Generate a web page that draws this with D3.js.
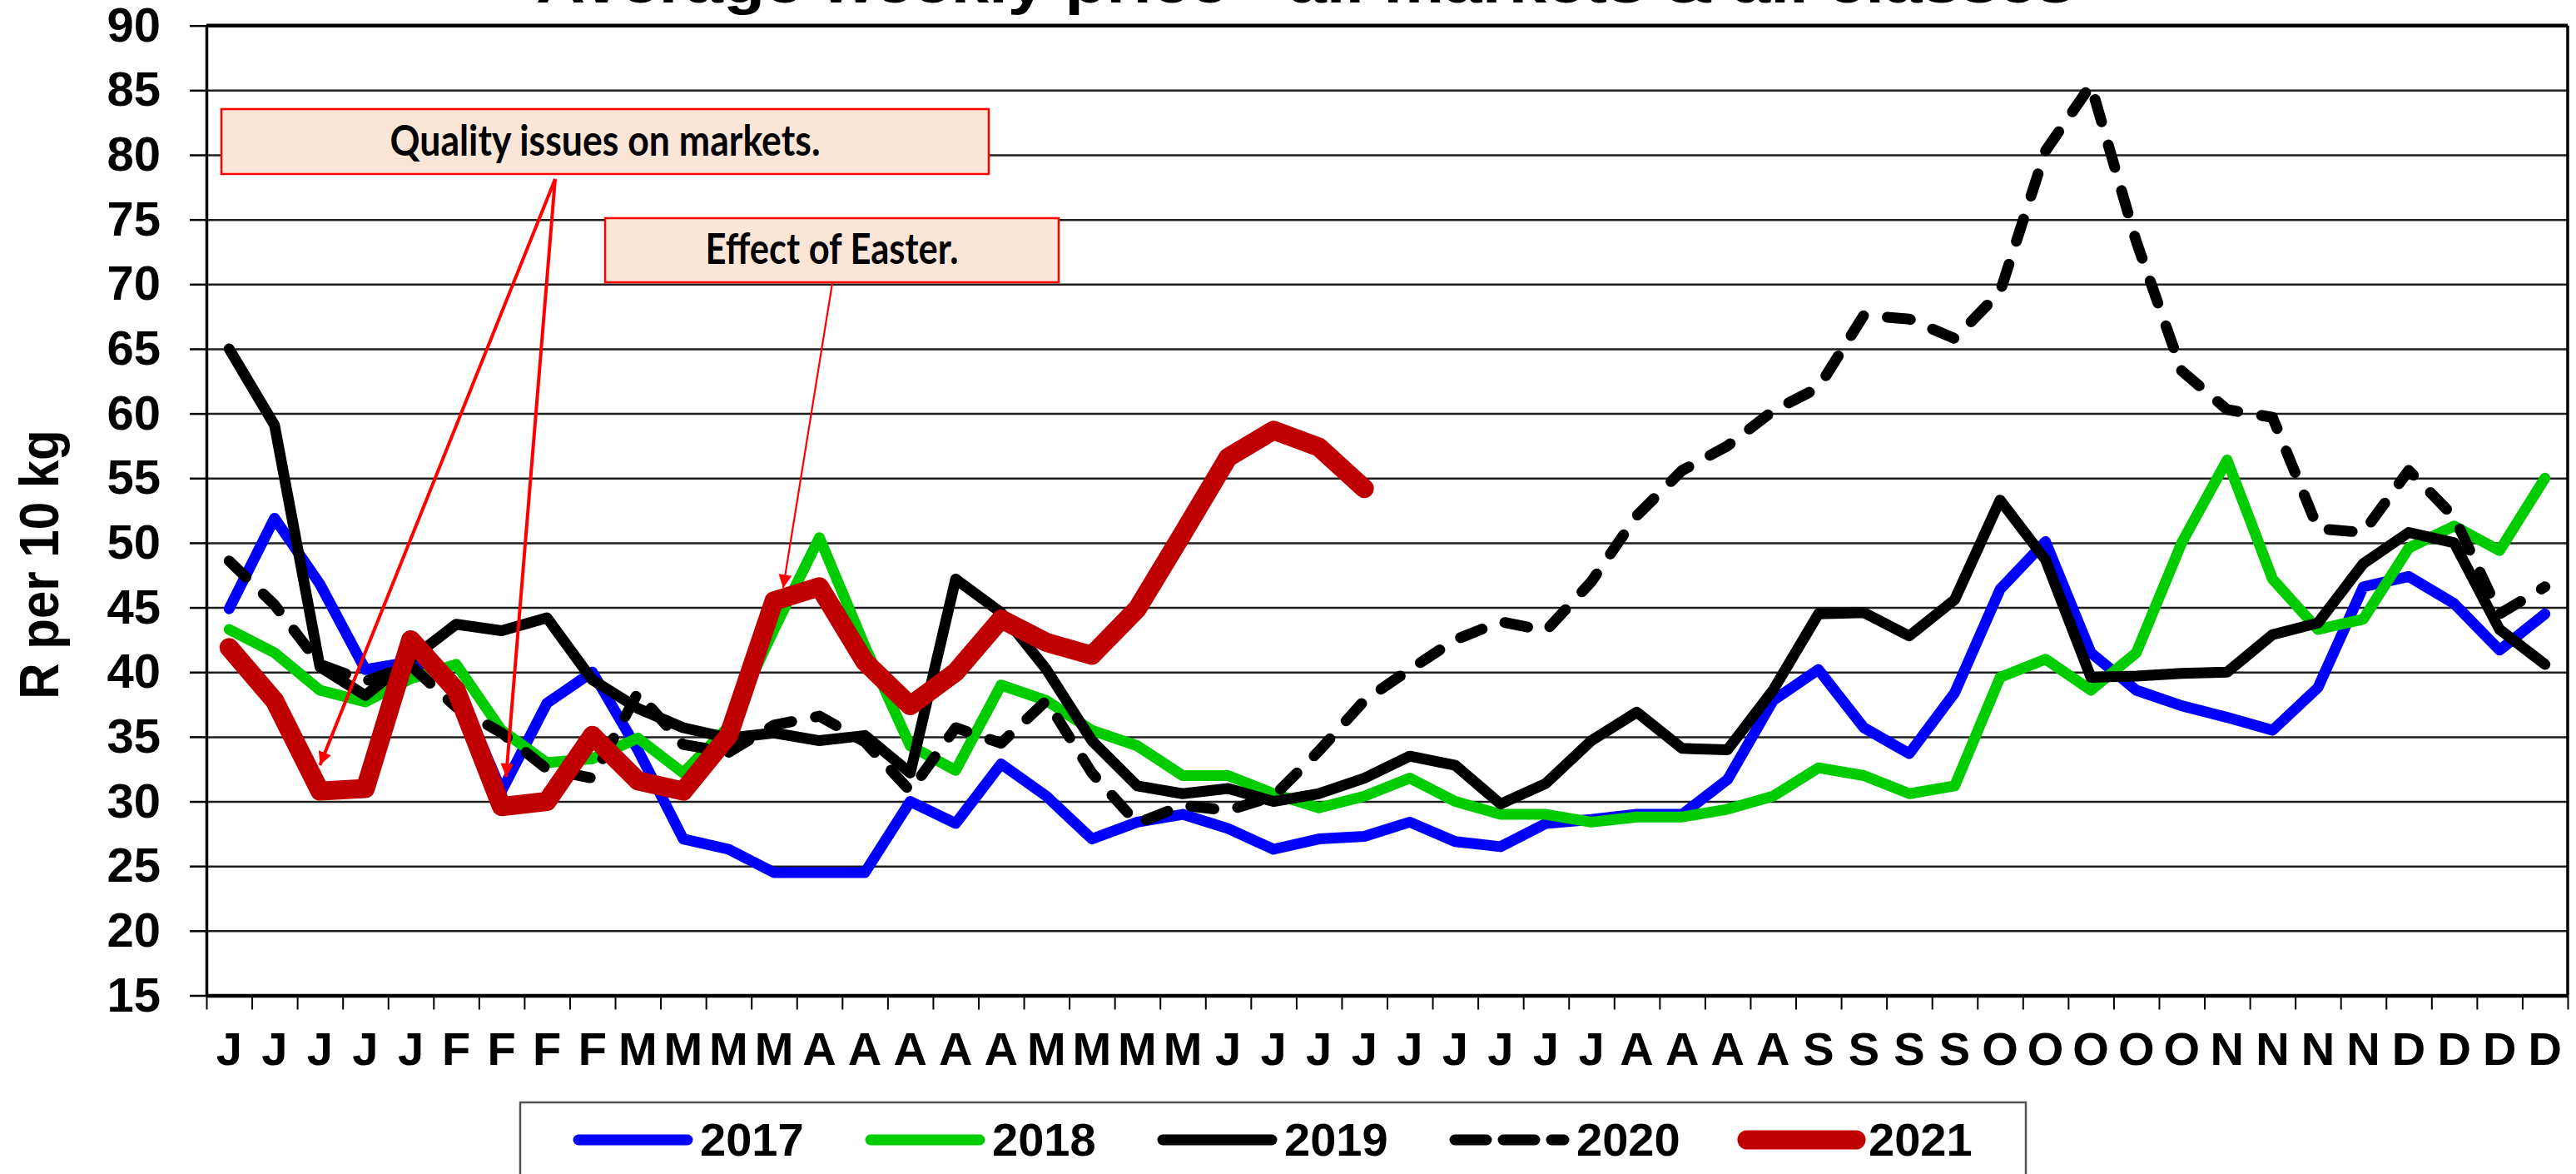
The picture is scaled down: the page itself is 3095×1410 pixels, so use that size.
<!DOCTYPE html>
<html>
<head>
<meta charset="utf-8">
<script src="https://cdnjs.cloudflare.com/ajax/libs/d3/7.8.5/d3.min.js"></script>
<style>
  body { margin: 0; background: #fff; overflow: hidden; }
  svg text { font-family: "Liberation Sans", Arial, sans-serif; font-weight: bold; fill: #000; }
  .note_text { font-family: Lato, "Open Sans", sans-serif; }
</style>
</head>
<body>
<div id="chart" style="width:3095px;height:1410px"></div>
<script>
// week labels (first letter of the month, 52 weeks)
var weekLabels = ["J","J","J","J","J","F","F","F","F","M","M","M","M",
  "A","A","A","A","A","M","M","M","M",
  "J","J","J","J","J","J","J","J","J",
  "A","A","A","A","S","S","S","S","O","O","O","O","O",
  "N","N","N","N","D","D","D","D"];

// average weekly price, R per 10 kg
var s2017 = [44.9,51.9,46.8,40.2,40.8,39.0,30.8,37.6,40.0,34.0,27.1,26.3,24.5,24.5,24.5,30.0,28.3,32.9,30.4,27.1,
  28.4,29.0,27.9,26.3,27.1,27.3,28.4,26.9,26.5,28.3,28.6,29.0,29.0,31.7,37.8,40.2,35.7,33.7,38.4,46.4,
  50.1,41.5,38.6,37.4,36.5,35.5,38.8,46.6,47.4,45.3,41.7,44.5];
var s2018 = [43.3,41.5,38.6,37.7,39.5,40.6,35.5,33.0,33.3,34.9,32.2,35.8,43.3,50.4,42.0,34.3,32.4,39.0,37.8,35.5,
  34.3,32.0,32.0,30.6,29.5,30.4,31.8,30.0,29.0,29.0,28.4,28.8,28.8,29.4,30.4,32.6,32.0,30.6,31.2,39.6,
  41.0,38.6,41.5,50.0,56.4,47.2,43.3,44.1,49.6,51.3,49.4,55.0];
var s2019 = [65.0,59.1,40.4,38.2,41.0,43.7,43.2,44.2,39.4,37.2,35.7,34.9,35.3,34.7,35.1,32.2,47.2,44.6,40.2,34.7,
  31.2,30.6,31.0,30.0,30.6,31.8,33.5,32.8,29.8,31.4,34.7,36.9,34.1,34.0,38.6,44.5,44.6,42.8,45.6,53.3,
  48.7,39.6,39.7,39.9,40.0,42.9,43.8,48.4,50.8,50.0,43.3,40.6];
var s2020 = [48.6,45.2,40.6,39.3,40.5,37.3,35.3,32.5,31.8,38.4,34.4,33.8,35.9,36.6,34.6,30.8,35.7,34.5,37.8,32.2,
  28.3,29.7,29.3,30.4,33.9,37.8,40.2,42.5,43.9,43.2,47.0,52.1,55.6,57.5,60.2,62.0,67.6,67.3,65.8,69.4,
  80.3,85.4,73.3,63.3,60.3,59.7,51.1,50.8,55.6,52.0,44.5,46.6];
var s2021 = [41.9,37.8,30.8,31.0,42.5,38.6,29.6,30.0,35.1,31.6,30.8,35.1,45.5,46.6,40.8,37.4,40.0,44.1,42.3,41.3,
  44.9,50.7,56.6,58.7,57.4,54.2];

var seriesNames = ["2017","2018","2019","2020","2021"];
var yTicks = d3.range(15, 91, 5);

// notes: text, and the [week, value] the arrows point at
var noteTexts = ["Quality issues on markets.", "Effect of Easter."];
var noteTargets = [[[2.5, 32.8], [6.6, 31.9]], [[12.7, 46.5]]];

var series = [
  {name: seriesNames[0], values: s2017, color: "#0000ff", width: 13, dash: null},
  {name: seriesNames[1], values: s2018, color: "#00cc00", width: 13, dash: null},
  {name: seriesNames[2], values: s2019, color: "#000000", width: 13, dash: null},
  {name: seriesNames[3], values: s2020, color: "#000000", width: 13, dash: "28,29"},
  {name: seriesNames[4], values: s2021, color: "#c00000", width: 23, dash: null}
];

var width = 3095, height = 1410;
var plot = {left: 248, right: 3085, top: 30.7, bottom: 1195.5};

var svg = d3.select("#chart").append("svg")
  .attr("width", width)
  .attr("height", height);

svg.append("rect").attr("width", width).attr("height", height).attr("fill", "#fff");

var x = d3.scaleBand().domain(d3.range(weekLabels.length)).range([plot.left, plot.right]);
var xEdge = d3.scaleLinear().domain([0, weekLabels.length]).range([plot.left, plot.right]);
var y = d3.scaleLinear().domain([15, 90]).range([plot.bottom, plot.top]);
var cx = function(i) { return x(i) + x.bandwidth() / 2; };

// title, mostly cut off at the top edge (as in the source picture)
svg.append("text")
  .attr("x", 644)
  .attr("y", 3)
  .attr("textLength", 1848)
  .attr("lengthAdjust", "spacingAndGlyphs")
  .style("font-size", "70px")
  .text("Average weekly price - all markets & all classes");

// gridlines
var grid = svg.append("g")
  .attr("transform", "translate(" + plot.left + ",0)")
  .call(d3.axisLeft(y).tickValues(yTicks).tickSize(-(plot.right - plot.left)).tickFormat(""));
grid.select(".domain").remove();
grid.selectAll("line").attr("stroke", "#1e1e1e").attr("stroke-width", 2.5);

// frame
svg.append("line")
  .attr("x1", plot.left).attr("x2", plot.right)
  .attr("y1", plot.top).attr("y2", plot.top)
  .attr("stroke", "#000").attr("stroke-width", 4.5);
svg.append("line")
  .attr("x1", plot.right).attr("x2", plot.right)
  .attr("y1", plot.top).attr("y2", plot.bottom)
  .attr("stroke", "#000").attr("stroke-width", 3.5);

// y axis
var yAxis = svg.append("g")
  .attr("transform", "translate(" + plot.left + ",0)")
  .call(d3.axisLeft(y).tickValues(yTicks).tickSize(20).tickSizeOuter(0).tickPadding(35));
yAxis.select(".domain").attr("stroke", "#000").attr("stroke-width", 3.5);
yAxis.selectAll("line").attr("stroke", "#000").attr("stroke-width", 2.5);
yAxis.selectAll("text").style("font-size", "58px").attr("fill", "#000");

// axis title, a little wide like the source
svg.append("text")
  .attr("transform", "translate(70,678) scale(1.12,1) rotate(-90)")
  .attr("text-anchor", "middle")
  .style("font-size", "60px")
  .text("R per 10 kg");

// x axis: ticks between weeks, letters centred on weeks
var xTicks = svg.append("g")
  .attr("transform", "translate(0," + plot.bottom + ")")
  .call(d3.axisBottom(xEdge).tickValues(d3.range(weekLabels.length + 1)).tickSize(17).tickSizeOuter(0).tickFormat(""));
xTicks.select(".domain").attr("stroke", "#000").attr("stroke-width", 4.5);
xTicks.selectAll("line").attr("stroke", "#000").attr("stroke-width", 2);

var xLabels = svg.append("g")
  .attr("transform", "translate(0," + plot.bottom + ")")
  .call(d3.axisBottom(x).tickSize(0).tickPadding(44).tickFormat(function(i) { return weekLabels[i]; }));
xLabels.select(".domain").remove();
xLabels.selectAll("text").style("font-size", "56px").attr("fill", "#000");

// series lines
var line = d3.line()
  .x(function(d, i) { return cx(i); })
  .y(function(d) { return y(d); });

svg.selectAll(".series")
  .data(series)
  .enter().append("path")
    .attr("class", "series")
    .attr("d", function(d) { return line(d.values); })
    .attr("fill", "none")
    .attr("stroke", function(d) { return d.color; })
    .attr("stroke-width", function(d) { return d.width; })
    .attr("stroke-dasharray", function(d) { return d.dash; })
    .attr("stroke-linejoin", "round")
    .attr("stroke-linecap", "round");

// notes
var defs = svg.append("defs");
defs.append("marker")
    .attr("id", "arrow")
    .attr("markerUnits", "userSpaceOnUse")
    .attr("viewBox", "0 0 10 10")
    .attr("refX", 10).attr("refY", 5)
    .attr("markerWidth", 20).attr("markerHeight", 16)
    .attr("orient", "auto")
  .append("path")
    .attr("d", "M0,0L10,5L0,10Z")
    .attr("fill", "#ff0000");

var noteBoxes = [
  {x: 266, y: 131, w: 922, h: 78, textW: 517, base: 187, from: [667, 215], lw: 4},
  {x: 727, y: 262, w: 545, h: 77, textW: 304, base: 317, from: [1000, 340], lw: 2.2}
];

noteBoxes.forEach(function(b, k) {
  noteTargets[k].forEach(function(t) {
    svg.append("line")
      .attr("x1", b.from[0]).attr("y1", b.from[1])
      .attr("x2", xEdge(t[0])).attr("y2", y(t[1]))
      .attr("stroke", "#ff0000")
      .attr("stroke-width", b.lw)
      .attr("marker-end", "url(#arrow)");
  });
  svg.append("rect")
    .attr("x", b.x).attr("y", b.y)
    .attr("width", b.w).attr("height", b.h)
    .attr("fill", "#fbe5d6")
    .attr("stroke", "#ff0000")
    .attr("stroke-width", 2.5);
  svg.append("text")
    .attr("class", "note_text")
    .attr("x", b.x + b.w / 2)
    .attr("y", b.base)
    .attr("text-anchor", "middle")
    .attr("textLength", b.textW)
    .attr("lengthAdjust", "spacingAndGlyphs")
    .style("font-size", "51px")
    .text(noteTexts[k]);
});

// legend
var legend = svg.append("g");
legend.append("rect")
  .attr("x", 625).attr("y", 1324)
  .attr("width", 1809).attr("height", 130)
  .attr("fill", "#fff")
  .attr("stroke", "#555")
  .attr("stroke-width", 2.5);

var item = legend.selectAll(".item")
  .data(series)
  .enter().append("g")
    .attr("class", "item")
    .attr("transform", function(d, i) { return "translate(" + (689 + i * 351) + ",1369)"; });

item.append("line")
  .attr("x1", 6).attr("x2", 137)
  .attr("stroke", function(d) { return d.color; })
  .attr("stroke-width", function(d) { return d.width; })
  .attr("stroke-dasharray", function(d) { return d.dash ? "38,20" : null; })
  .attr("stroke-linecap", "round");

item.append("text")
  .attr("x", 152)
  .attr("y", 19)
  .style("font-size", "56px")
  .text(function(d) { return d.name; });
</script>
</body>
</html>
